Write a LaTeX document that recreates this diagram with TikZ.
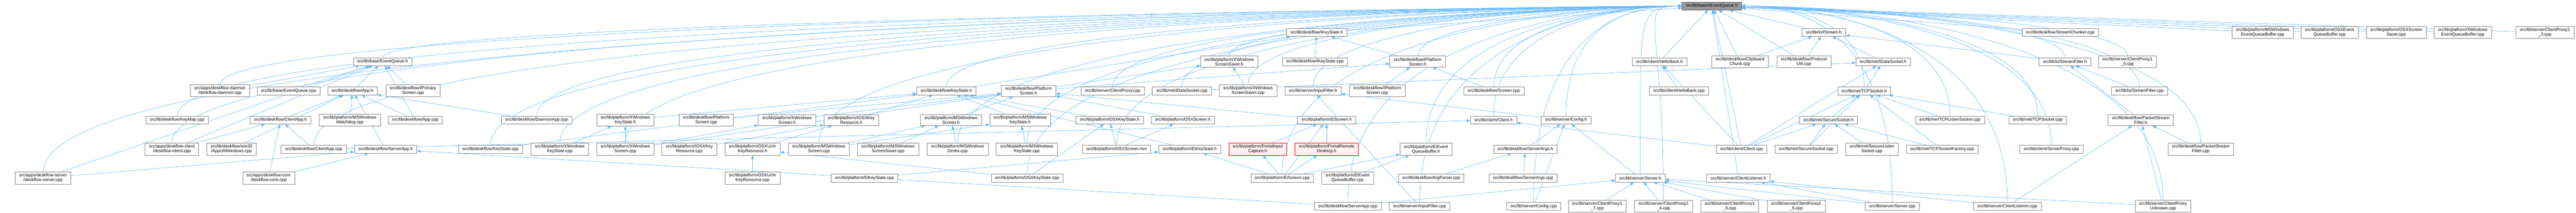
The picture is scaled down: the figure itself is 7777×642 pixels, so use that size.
\documentclass[tikz,border=0pt]{standalone}
\usepackage{fontspec}
\setmainfont{Liberation Sans}
\usetikzlibrary{arrows.meta,backgrounds}

\definecolor{edgeblue}{HTML}{63B8FF}
\definecolor{boxgray}{HTML}{888888}
\definecolor{rootgray}{HTML}{999999}
\definecolor{rootline}{HTML}{666666}

\tikzset{
  filebox/.style={draw=boxgray, fill=white, line width=1pt, align=center, inner xsep=12pt, inner ysep=5pt, minimum height=24pt, font=\fontsize{13}{14}\selectfont},
  rootbox/.style={filebox, draw=rootline, fill=rootgray},
  redbox/.style={filebox, draw=red, fill=red!6},
  incl/.style={draw=edgeblue, line width=1pt, -{Triangle[length=11pt,width=9pt]}},
}

\begin{document}
\begin{tikzpicture}[x=1pt,y=-1pt]
\useasboundingbox (0,0) rectangle (7777,642);
\coordinate (lane) at (0,58);
\coordinate (lanel) at (4940,18);
\coordinate (laner) at (5400,18);

% Nodes
\node[rootbox] (ieventqueueh) at (5168,18) {src/lib/base/IEventQueue.h};

\node[filebox] (ikeystateh) at (3975,98) {src/lib/deskflow/IKeyState.h};
\node[filebox] (istreamh) at (5506,98) {src/lib/io/IStream.h};
\node[filebox] (streamchunkercpp) at (6220,98) {src/lib/deskflow/StreamChunker.cpp};
\node[filebox] (mswineqbcpp) at (6831,98) {src/lib/platform/MSWindows\\EventQueueBuffer.cpp};
\node[filebox] (osxeqbcpp) at (7033,98) {src/lib/platform/OSXEvent\\QueueBuffer.cpp};
\node[filebox] (osxscreensavercpp) at (7234,98) {src/lib/platform/OSXScreen\\Saver.cpp};
\node[filebox] (xwineqbcpp) at (7435,98) {src/lib/platform/XWindows\\EventQueueBuffer.cpp};
\node[filebox] (clientproxy13cpp) at (7683,98) {src/lib/server/ClientProxy1\\\_3.cpp};

\node[filebox] (eventqueueh) at (1155,186) {src/lib/base/EventQueue.h};
\node[filebox] (xwinscreensaverh) at (3711,186) {src/lib/platform/XWindows\\ScreenSaver.h};
\node[filebox] (ikeystatecpp) at (3970,186) {src/lib/deskflow/IKeyState.cpp};
\node[filebox] (iplatformscreenh) at (4280,186) {src/lib/deskflow/IPlatform\\Screen.h};
\node[filebox] (hellobackh) at (5010,186) {src/lib/client/HelloBack.h};
\node[filebox] (clipboardchunkcpp) at (5253,186) {src/lib/deskflow/Clipboard\\Chunk.cpp};
\node[filebox] (protocolutilcpp) at (5446,186) {src/lib/deskflow/Protocol\\Util.cpp};
\node[filebox] (idatasocketh) at (5685,186) {src/lib/net/IDataSocket.h};
\node[filebox] (streamfilterh) at (6234,186) {src/lib/io/StreamFilter.h};
\node[filebox] (clientproxy10cpp) at (6423,186) {src/lib/server/ClientProxy1\\\_0.cpp};

\node[filebox] (daemoncpp) at (664,274) {src/apps/deskflow-daemon\\/deskflow-daemon.cpp};
\node[filebox] (eventqueuecpp) at (871,274) {src/lib/base/EventQueue.cpp};
\node[filebox] (apph) at (1064,274) {src/lib/deskflow/App.h};
\node[filebox] (iprimaryscreencpp) at (1247,274) {src/lib/deskflow/IPrimary\\Screen.cpp};
\node[filebox] (keystateh) at (2857,274) {src/lib/deskflow/KeyState.h};
\node[filebox] (platformscreenh) at (3105,274) {src/lib/deskflow/Platform\\Screen.h};
\node[filebox] (clientproxycpp) at (3359,274) {src/lib/server/ClientProxy.cpp};
\node[filebox] (idatasocketcpp) at (3568,274) {src/lib/net/IDataSocket.cpp};
\node[filebox] (xwinscreensavercpp) at (3768,274) {src/lib/platform/XWindows\\ScreenSaver.cpp};
\node[filebox] (inputfilterh) at (3964,274) {src/lib/server/InputFilter.h};
\node[filebox] (iplatformscreencpp) at (4158,274) {src/lib/deskflow/IPlatform\\Screen.cpp};
\node[filebox] (screencpp) at (4510,274) {src/lib/deskflow/Screen.cpp};
\node[filebox] (hellobackcpp) at (5069,274) {src/lib/client/HelloBack.cpp};
\node[filebox] (tcpsocketh) at (5628,274) {src/lib/net/TCPSocket.h};
\node[filebox] (streamfiltercpp) at (6459,274) {src/lib/io/StreamFilter.cpp};

\node[filebox] (keymapcpp) at (535,362) {src/lib/deskflow/KeyMap.cpp};
\node[filebox] (clientapph) at (847,362) {src/lib/deskflow/ClientApp.h};
\node[filebox] (mswinwatchdogcpp) at (1056,362) {src/lib/platform/MSWindows\\Watchdog.cpp};
\node[filebox] (appcpp) at (1254,362) {src/lib/deskflow/App.cpp};
\node[filebox] (daemonappcpp) at (1620,362) {src/lib/deskflow/DaemonApp.cpp};
\node[filebox] (xwinkeystateh) at (1888,362) {src/lib/platform/XWindows\\KeyState.h};
\node[filebox] (platformscreencpp) at (2132,362) {src/lib/deskflow/Platform\\Screen.cpp};
\node[filebox] (xwinscreenh) at (2376,362) {src/lib/platform/XWindows\\Screen.h};
\node[filebox] (iosxkeyresourceh) at (2570,362) {src/lib/platform/IOSXKey\\Resource.h};
\node[filebox] (mswinscreenh) at (2871,362) {src/lib/platform/MSWindows\\Screen.h};
\node[filebox] (mswinkeystateh) at (3080,362) {src/lib/platform/MSWindows\\KeyState.h};
\node[filebox] (osxkeystateh) at (3350,362) {src/lib/platform/OSXKeyState.h};
\node[filebox] (osxscreenh) at (3571,362) {src/lib/platform/OSXScreen.h};
\node[filebox] (eiscreenh) at (4005,362) {src/lib/platform/EiScreen.h};
\node[filebox] (clienth) at (4509,362) {src/lib/client/Client.h};
\node[filebox] (configh) at (4728,362) {src/lib/server/Config.h};
\node[filebox] (securesocketh) at (5520,362) {src/lib/net/SecureSocket.h};
\node[filebox] (tcplistensocketcpp) at (5887,362) {src/lib/net/TCPListenSocket.cpp};
\node[filebox] (tcpsocketcpp) at (6152,362) {src/lib/net/TCPSocket.cpp};
\node[filebox] (packetstreamfilterh) at (6463,362) {src/lib/deskflow/PacketStream\\Filter.h};

\node[filebox] (dfclientcpp) at (519,450) {src/apps/deskflow-client\\/deskflow-client.cpp};
\node[filebox] (apputilwincpp) at (699,450) {src/lib/deskflow/win32\\/AppUtilWindows.cpp};
\node[filebox] (clientappcpp) at (947,450) {src/lib/deskflow/ClientApp.cpp};
\node[filebox] (serverapph) at (1164,450) {src/lib/deskflow/ServerApp.h};
\node[filebox] (keystatecpp) at (1481,450) {src/lib/deskflow/KeyState.cpp};
\node[filebox] (xwinkeystatecpp) at (1690,450) {src/lib/platform/XWindows\\KeyState.cpp};
\node[filebox] (xwinscreencpp) at (1888,450) {src/lib/platform/XWindows\\Screen.cpp};
\node[filebox] (iosxkeyresourcecpp) at (2081,450) {src/lib/platform/IOSXKey\\Resource.cpp};
\node[filebox] (osxuchrkeyresourceh) at (2272,450) {src/lib/platform/OSXUchr\\KeyResource.h};
\node[filebox] (mswinscreencpp) at (2472,450) {src/lib/platform/MSWindows\\Screen.cpp};
\node[filebox] (mswinscreensavercpp) at (2681,450) {src/lib/platform/MSWindows\\ScreenSaver.cpp};
\node[filebox] (mswindeskscpp) at (2891,450) {src/lib/platform/MSWindows\\Desks.cpp};
\node[filebox] (mswinkeystatecpp) at (3100,450) {src/lib/platform/MSWindows\\KeyState.cpp};
\node[filebox] (osxscreenmm) at (3371,450) {src/lib/platform/OSXScreen.mm};
\node[filebox] (eikeystateh) at (3592,450) {src/lib/platform/EiKeyState.h};
\node[redbox] (portalinputcaptureh) at (3797,450) {src/lib/platform/PortalInput\\Capture.h};
\node[redbox] (portalremotedesktoph) at (4005,450) {src/lib/platform/PortalRemote\\Desktop.h};
\node[filebox] (eieqbh) at (4305,450) {src/lib/platform/EiEvent\\QueueBuffer.h};
\node[filebox] (serverargsh) at (4605,450) {src/lib/deskflow/ServerArgs.h};
\node[filebox] (clientcpp) at (5258,450) {src/lib/client/Client.cpp};
\node[filebox] (securesocketcpp) at (5453,450) {src/lib/net/SecureSocket.cpp};
\node[filebox] (securelistensocketcpp) at (5651,450) {src/lib/net/SecureListen\\Socket.cpp};
\node[filebox] (tcpsocketfactorycpp) at (5863,450) {src/lib/net/TCPSocketFactory.cpp};
\node[filebox] (serverproxycpp) at (6193,450) {src/lib/client/ServerProxy.cpp};
\node[filebox] (packetstreamfiltercpp) at (6644,450) {src/lib/deskflow/PacketStream\\Filter.cpp};

\node[filebox] (dfservercpp) at (130,537) {src/apps/deskflow-server\\/deskflow-server.cpp};
\node[filebox] (dfcorecpp) at (811,537) {src/apps/deskflow-core\\/deskflow-core.cpp};
\node[filebox] (osxuchrkeyresourcecpp) at (2272,537) {src/lib/platform/OSXUchr\\KeyResource.cpp};
\node[filebox] (eikeystatecpp) at (2610,537) {src/lib/platform/EiKeyState.cpp};
\node[filebox] (osxkeystatecpp) at (3101,537) {src/lib/platform/OSXKeyState.cpp};
\node[filebox] (eiscreencpp) at (3871,537) {src/lib/platform/EiScreen.cpp};
\node[filebox] (eieqbcpp) at (4068,537) {src/lib/platform/EiEvent\\QueueBuffer.cpp};
\node[filebox] (argparsercpp) at (4321,537) {src/lib/deskflow/ArgParser.cpp};
\node[filebox] (serverargscpp) at (4598,537) {src/lib/deskflow/ServerArgs.cpp};
\node[filebox] (serverh) at (4952,537) {src/lib/server/Server.h};
\node[filebox] (clientlistenerh) at (5248,537) {src/lib/server/ClientListener.h};

\node[filebox] (serverappcpp) at (4069,622) {src/lib/deskflow/ServerApp.cpp};
\node[filebox] (inputfiltercpp) at (4286,622) {src/lib/server/InputFilter.cpp};
\node[filebox] (configcpp) at (4630,622) {src/lib/server/Config.cpp};
\node[filebox] (clientproxy17cpp) at (4822,622) {src/lib/server/ClientProxy1\\\_7.cpp};
\node[filebox] (clientproxy14cpp) at (5022,622) {src/lib/server/ClientProxy1\\\_4.cpp};
\node[filebox] (clientproxy16cpp) at (5222,622) {src/lib/server/ClientProxy1\\\_6.cpp};
\node[filebox] (clientproxy15cpp) at (5423,622) {src/lib/server/ClientProxy1\\\_5.cpp};
\node[filebox] (servercpp) at (5713,622) {src/lib/server/Server.cpp};
\node[filebox] (clientlistenercpp) at (6060,622) {src/lib/server/ClientListener.cpp};
\node[filebox] (clientproxyunknowncpp) at (6530,622) {src/lib/server/ClientProxy\\Unknown.cpp};

% Edges
\begin{scope}[on background layer]
\draw[incl] (ikeystateh) -- (ieventqueueh);
\draw[incl] (istreamh) -- (ieventqueueh);
\draw[incl] (streamchunkercpp) -- (ieventqueueh);
\draw[incl] (mswineqbcpp) -- (ieventqueueh);
\draw[incl] (osxeqbcpp) -- (ieventqueueh);
\draw[incl] (osxscreensavercpp) -- (ieventqueueh);
\draw[incl] (xwineqbcpp) -- (ieventqueueh);
\draw[incl] (clientproxy13cpp) -- (ieventqueueh);

\draw[incl] (eventqueueh) .. controls (eventqueueh |- lane) and (lanel) .. (ieventqueueh);
\draw[incl] (xwinscreensaverh) .. controls (xwinscreensaverh |- lane) and (lanel) .. (ieventqueueh);
\draw[incl] (ikeystatecpp) -- (ikeystateh);
\draw[incl] (iplatformscreenh) -- (ikeystateh);
\draw[incl] (iplatformscreenh) .. controls (iplatformscreenh |- lane) and (lanel) .. (ieventqueueh);
\draw[incl] (hellobackh) -- (ieventqueueh);
\draw[incl] (clipboardchunkcpp) -- (istreamh);
\draw[incl] (clipboardchunkcpp) -- (ieventqueueh);
\draw[incl] (protocolutilcpp) -- (istreamh);
\draw[incl] (protocolutilcpp) -- (ieventqueueh);
\draw[incl] (idatasocketh) -- (istreamh);
\draw[incl] (streamfilterh) -- (istreamh);
\draw[incl] (streamfilterh) .. controls (streamfilterh |- lane) and (laner) .. (ieventqueueh);
\draw[incl] (clientproxy10cpp) .. controls (clientproxy10cpp |- lane) and (laner) .. (ieventqueueh);

\draw[incl] (daemoncpp) -- (eventqueueh);
\draw[incl] (daemoncpp) .. controls (daemoncpp |- lane) and (lanel) .. (ieventqueueh);
\draw[incl] (eventqueuecpp) -- (eventqueueh);
\draw[incl] (apph) -- (eventqueueh);
\draw[incl] (iprimaryscreencpp) -- (eventqueueh);
\draw[incl] (keystateh) -- (ikeystateh);
\draw[incl] (keystateh) .. controls (keystateh |- lane) and (lanel) .. (ieventqueueh);
\draw[incl] (platformscreenh) -- (iplatformscreenh);
\draw[incl] (clientproxycpp) .. controls (clientproxycpp |- lane) and (lanel) .. (ieventqueueh);
\draw[incl] (idatasocketcpp) -- (idatasocketh);
\draw[incl] (idatasocketcpp) .. controls (idatasocketcpp |- lane) and (lanel) .. (ieventqueueh);
\draw[incl] (xwinscreensavercpp) -- (xwinscreensaverh);
\draw[incl] (xwinscreensavercpp) .. controls (xwinscreensavercpp |- lane) and (lanel) .. (ieventqueueh);
\draw[incl] (inputfilterh) .. controls (inputfilterh |- lane) and (lanel) .. (ieventqueueh);
\draw[incl] (iplatformscreencpp) -- (iplatformscreenh);
\draw[incl] (screencpp) -- (iplatformscreenh);
\draw[incl] (screencpp) .. controls (screencpp |- lane) and (lanel) .. (ieventqueueh);
\draw[incl] (hellobackcpp) -- (hellobackh);
\draw[incl] (tcpsocketh) -- (idatasocketh);
\draw[incl] (tcpsocketh) .. controls (tcpsocketh |- lane) and (laner) .. (ieventqueueh);
\draw[incl] (streamfiltercpp) -- (streamfilterh);
\draw[incl] (streamfiltercpp) .. controls (streamfiltercpp |- lane) and (laner) .. (ieventqueueh);

\draw[incl] (keymapcpp) .. controls (keymapcpp |- lane) and (lanel) .. (ieventqueueh);
\draw[incl] (clientapph) -- (apph);
\draw[incl] (mswinwatchdogcpp) -- (apph);
\draw[incl] (appcpp) -- (apph);
\draw[incl] (appcpp) -- (eventqueueh);
\draw[incl] (daemonappcpp) -- (apph);
\draw[incl] (daemonappcpp) .. controls (daemonappcpp |- lane) and (lanel) .. (ieventqueueh);
\draw[incl] (xwinkeystateh) -- (keystateh);
\draw[incl] (platformscreencpp) -- (platformscreenh);
\draw[incl] (xwinscreenh) -- (platformscreenh);
\draw[incl] (iosxkeyresourceh) -- (keystateh);
\draw[incl] (mswinscreenh) -- (platformscreenh);
\draw[incl] (mswinkeystateh) -- (keystateh);
\draw[incl] (osxkeystateh) -- (keystateh);
\draw[incl] (osxscreenh) -- (platformscreenh);
\draw[incl] (eiscreenh) -- (platformscreenh);
\draw[incl] (clienth) .. controls (clienth |- lane) and (lanel) .. (ieventqueueh);
\draw[incl] (configh) -- (inputfilterh);
\draw[incl] (configh) .. controls (configh |- lane) and (lanel) .. (ieventqueueh);
\draw[incl] (securesocketh) -- (tcpsocketh);
\draw[incl] (tcplistensocketcpp) -- (tcpsocketh);
\draw[incl] (tcplistensocketcpp) .. controls (tcplistensocketcpp |- lane) and (laner) .. (ieventqueueh);
\draw[incl] (tcpsocketcpp) -- (tcpsocketh);
\draw[incl] (tcpsocketcpp) .. controls (tcpsocketcpp |- lane) and (laner) .. (ieventqueueh);
\draw[incl] (packetstreamfilterh) -- (streamfilterh);

\draw[incl] (dfclientcpp) -- (clientapph);
\draw[incl] (dfclientcpp) -- (eventqueueh);
\draw[incl] (dfclientcpp) .. controls (dfclientcpp |- lane) and (lanel) .. (ieventqueueh);
\draw[incl] (apputilwincpp) -- (apph);
\draw[incl] (clientappcpp) -- (clientapph);
\draw[incl] (clientappcpp) -- (clienth);
\draw[incl] (clientappcpp) .. controls (clientappcpp |- lane) and (lanel) .. (ieventqueueh);
\draw[incl] (serverapph) -- (apph);
\draw[incl] (keystatecpp) -- (keystateh);
\draw[incl] (keystatecpp) .. controls (keystatecpp |- lane) and (lanel) .. (ieventqueueh);
\draw[incl] (xwinkeystatecpp) -- (xwinkeystateh);
\draw[incl] (xwinkeystatecpp) .. controls (xwinkeystatecpp |- lane) and (lanel) .. (ieventqueueh);
\draw[incl] (xwinscreencpp) -- (xwinkeystateh);
\draw[incl] (xwinscreencpp) -- (xwinscreenh);
\draw[incl] (xwinscreencpp) -- (xwinscreensaverh);
\draw[incl] (xwinscreencpp) .. controls (xwinscreencpp |- lane) and (lanel) .. (ieventqueueh);
\draw[incl] (iosxkeyresourcecpp) -- (iosxkeyresourceh);
\draw[incl] (osxuchrkeyresourceh) -- (iosxkeyresourceh);
\draw[incl] (mswinscreencpp) -- (mswinscreenh);
\draw[incl] (mswinscreencpp) -- (mswinkeystateh);
\draw[incl] (mswinscreencpp) .. controls (mswinscreencpp |- lane) and (lanel) .. (ieventqueueh);
\draw[incl] (mswinscreensavercpp) -- (mswinscreenh);
\draw[incl] (mswindeskscpp) -- (mswinscreenh);
\draw[incl] (mswindeskscpp) .. controls (mswindeskscpp |- lane) and (lanel) .. (ieventqueueh);
\draw[incl] (mswinkeystatecpp) -- (mswinkeystateh);
\draw[incl] (mswinkeystatecpp) .. controls (mswinkeystatecpp |- lane) and (lanel) .. (ieventqueueh);
\draw[incl] (osxscreenmm) -- (osxkeystateh);
\draw[incl] (osxscreenmm) -- (osxscreenh);
\draw[incl] (osxscreenmm) .. controls (osxscreenmm |- lane) and (lanel) .. (ieventqueueh);
\draw[incl] (eikeystateh) -- (keystateh);
\draw[incl] (portalinputcaptureh) -- (eiscreenh);
\draw[incl] (portalremotedesktoph) -- (eiscreenh);
\draw[incl] (eieqbh) .. controls (eieqbh |- lane) and (lanel) .. (ieventqueueh);
\draw[incl] (serverargsh) -- (configh);
\draw[incl] (clientcpp) -- (clienth);
\draw[incl] (clientcpp) -- (hellobackh);
\draw[incl] (clientcpp) -- (idatasocketh);
\draw[incl] (clientcpp) -- (tcpsocketh);
\draw[incl] (clientcpp) -- (securesocketh);
\draw[incl] (clientcpp) -- (ieventqueueh);
\draw[incl] (securesocketcpp) -- (securesocketh);
\draw[incl] (securesocketcpp) -- (tcpsocketh);
\draw[incl] (securelistensocketcpp) -- (securesocketh);
\draw[incl] (tcpsocketfactorycpp) -- (securesocketh);
\draw[incl] (tcpsocketfactorycpp) -- (tcpsocketh);
\draw[incl] (serverproxycpp) .. controls (serverproxycpp |- lane) and (laner) .. (ieventqueueh);
\draw[incl] (packetstreamfiltercpp) -- (packetstreamfilterh);
\draw[incl] (packetstreamfiltercpp) .. controls (packetstreamfiltercpp |- lane) and (laner) .. (ieventqueueh);

\draw[incl] (dfservercpp) -- (serverapph);
\draw[incl] (dfservercpp) -- (eventqueueh);
\draw[incl] (dfservercpp) .. controls (dfservercpp |- lane) and (lanel) .. (ieventqueueh);
\draw[incl] (dfcorecpp) -- (clientapph);
\draw[incl] (dfcorecpp) -- (serverapph);
\draw[incl] (osxuchrkeyresourcecpp) -- (osxuchrkeyresourceh);
\draw[incl] (eikeystatecpp) -- (eikeystateh);
\draw[incl] (osxkeystatecpp) -- (osxkeystateh);
\draw[incl] (osxkeystatecpp) -- (osxuchrkeyresourceh);
\draw[incl] (osxkeystatecpp) .. controls (osxkeystatecpp |- lane) and (lanel) .. (ieventqueueh);
\draw[incl] (eiscreencpp) -- (eiscreenh);
\draw[incl] (eiscreencpp) -- (eikeystateh);
\draw[incl] (eiscreencpp) -- (portalinputcaptureh);
\draw[incl] (eiscreencpp) -- (portalremotedesktoph);
\draw[incl] (eiscreencpp) -- (eieqbh);
\draw[incl] (eiscreencpp) .. controls (eiscreencpp |- lane) and (lanel) .. (ieventqueueh);
\draw[incl] (eieqbcpp) -- (eieqbh);
\draw[incl] (argparsercpp) -- (serverargsh);
\draw[incl] (serverargscpp) -- (serverargsh);
\draw[incl] (serverh) -- (configh);
\draw[incl] (serverh) .. controls (serverh |- lane) and (lanel) .. (ieventqueueh);
\draw[incl] (clientlistenerh) -- (ieventqueueh);

\draw[incl] (serverappcpp) -- (serverapph);
\draw[incl] (serverappcpp) -- (serverh);
\draw[incl] (serverappcpp) .. controls (serverappcpp |- lane) and (lanel) .. (ieventqueueh);
\draw[incl] (inputfiltercpp) -- (inputfilterh);
\draw[incl] (inputfiltercpp) .. controls (inputfiltercpp |- lane) and (lanel) .. (ieventqueueh);
\draw[incl] (configcpp) -- (configh);
\draw[incl] (configcpp) .. controls (configcpp |- lane) and (lanel) .. (ieventqueueh);
\draw[incl] (clientproxy17cpp) -- (serverh);
\draw[incl] (clientproxy14cpp) -- (serverh);
\draw[incl] (clientproxy14cpp) .. controls (clientproxy14cpp |- lane) and (lanel) .. (ieventqueueh);
\draw[incl] (clientproxy16cpp) -- (serverh);
\draw[incl] (clientproxy15cpp) -- (serverh);
\draw[incl] (servercpp) -- (serverh);
\draw[incl] (servercpp) -- (clientlistenerh);
\draw[incl] (servercpp) .. controls (servercpp |- lane) and (laner) .. (ieventqueueh);
\draw[incl] (clientlistenercpp) -- (clientlistenerh);
\draw[incl] (clientlistenercpp) -- (packetstreamfilterh);
\draw[incl] (clientlistenercpp) .. controls (clientlistenercpp |- lane) and (laner) .. (ieventqueueh);
\draw[incl] (clientproxyunknowncpp) -- (serverh);
\draw[incl] (clientproxyunknowncpp) -- (packetstreamfilterh);
\draw[incl] (clientproxyunknowncpp) .. controls (clientproxyunknowncpp |- lane) and (laner) .. (ieventqueueh);
\end{scope}
\end{tikzpicture}
\end{document}
